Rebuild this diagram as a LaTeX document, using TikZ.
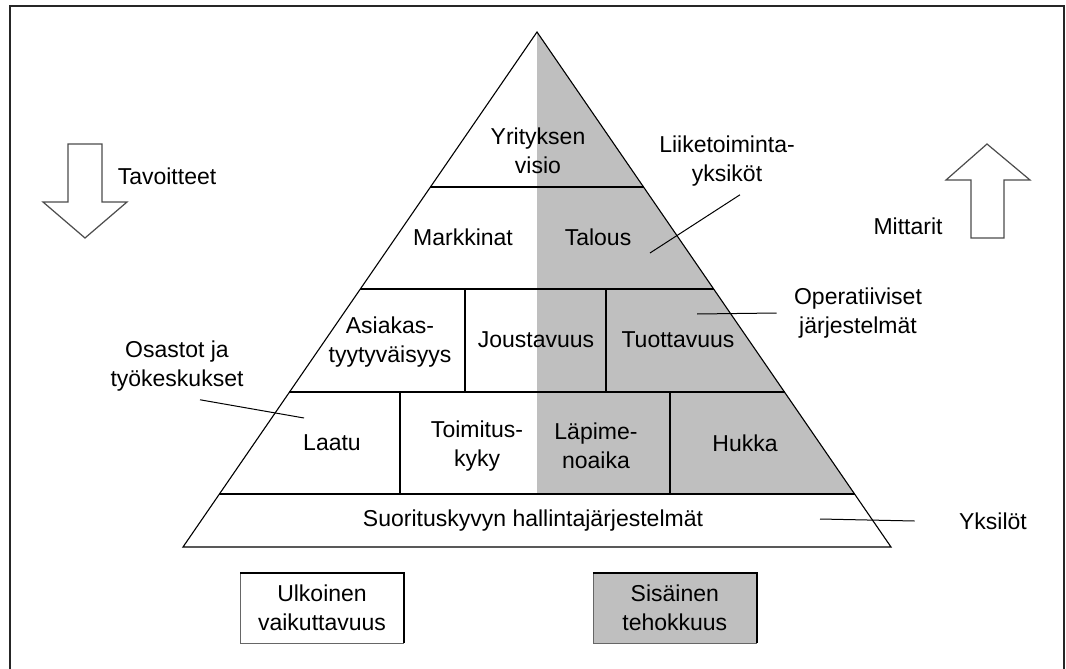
\documentclass[tikz,border=0pt]{standalone}
\usepackage{fontspec}
\setmainfont{Liberation Sans}
\usetikzlibrary{positioning}
\definecolor{harmaa}{gray}{0.75}

\begin{document}
\begin{tikzpicture}[x=1pt, y=-1pt, line width=1.1pt,
    every node/.style={font=\fontsize{23}{29}\selectfont, align=center, inner sep=0pt},
    nuoli/.style={draw=black!70, line width=1.2pt, fill=white},
    viiva/.style={line width=1pt},
    laatikko/.style={minimum width=163pt, minimum height=70pt, draw=black!60, line width=0.8pt}]
    \useasboundingbox (0,0) rectangle (1066,669);

    % kehys
    \draw[line width=2.2pt, draw=black!85] (10,669) -- (10,6) -- (1064,6) -- (1064,669);

    % pyramidi
    \coordinate (huippu) at (537,32);
    \coordinate (vasen) at (183,547);
    \coordinate (oikea) at (891,547);
    \fill[harmaa] (huippu) -- (855,494) -- (537,494) -- cycle;
    \draw (huippu) -- (vasen) -- (oikea) -- cycle;
    \draw (430,187) -- (644,187);
    \draw (360,289) -- (714,289);
    \draw (289,392) -- (785,392);
    \draw (219,494) -- (855,494);
    \draw (465,289) -- (465,392);
    \draw (606,289) -- (606,392);
    \draw (400,392) -- (400,494);
    \draw (670,392) -- (670,494);

    % tekstit
    \node (visio) at (538,151) {Yrityksen\\visio};
    \node (markkinat) at (463,237) {Markkinat};
    \node (talous) at (598,237) {Talous};
    \node (asiakas) at (390,342) {Asiakas-\\tyytyväisyys};
    \node (jousto) at (536,340) {Joustavuus};
    \node (tuotto) at (678,340) {Tuottavuus};
    \node (laatu) at (332,443) {Laatu};
    \node (toimitus) at (477,446) {Toimitus-\\kyky};
    \node (lapimeno) at (596,446) {Läpime-\\noaika};
    \node (hukka) at (745,443) {Hukka};
    \node (suoritus) at (533,521) {Suorituskyvyn hallintajärjestelmät};

    % sivuteksit ja viivat
    \node (liiketoiminta) at (727,161) {Liiketoiminta-\\yksiköt};
    \node (operatiiviset) at (858,313) {Operatiiviset\\järjestelmät};
    \node (osastot) at (177,366) {Osastot ja\\työkeskukset};
    \node (yksilot) at (993,521) {Yksilöt};
    \node (tavoitteet) at (167,176) {Tavoitteet};
    \node (mittarit) at (908,226) {Mittarit};

    \coordinate (liike-a) at (650,253);
    \coordinate (oper-a) at (697,314);
    \coordinate (osasto-a) at (304,418);
    \coordinate (yksilo-a) at (820,519);
    \draw[viiva] (liike-a) -- ([shift={(13,8)}]liiketoiminta.south);
    \draw[viiva] (oper-a) -- ([xshift=-17pt]operatiiviset.west);
    \draw[viiva] ([shift={(23,8)}]osastot.south) -- (osasto-a);
    \draw[viiva] (yksilo-a) -- ([xshift=-44pt]yksilot.west);

    % nuolet
    \draw[nuoli] (68,144) -- (102,144) -- (102,202) -- (127,202) -- (85,238)
        -- (43,202) -- (68,202) -- cycle;
    \draw[nuoli] (971,238) -- (1004,238) -- (1004,180) -- (1030,180) -- (987,144)
        -- (946,180) -- (971,180) -- cycle;

    % alalaatikot
    \node[laatikko, fill=white] (ulkoinen) at (322,608) {Ulkoinen\\vaikuttavuus};
    \node[laatikko, fill=harmaa, right=189pt of ulkoinen] (sisainen) {Sisäinen\\tehokkuus};
    \draw[line width=2pt] (ulkoinen.north west) -- (ulkoinen.north east) -- (ulkoinen.south east);
    \draw[line width=2pt] (sisainen.north west) -- (sisainen.north east) -- (sisainen.south east);
\end{tikzpicture}
\end{document}
